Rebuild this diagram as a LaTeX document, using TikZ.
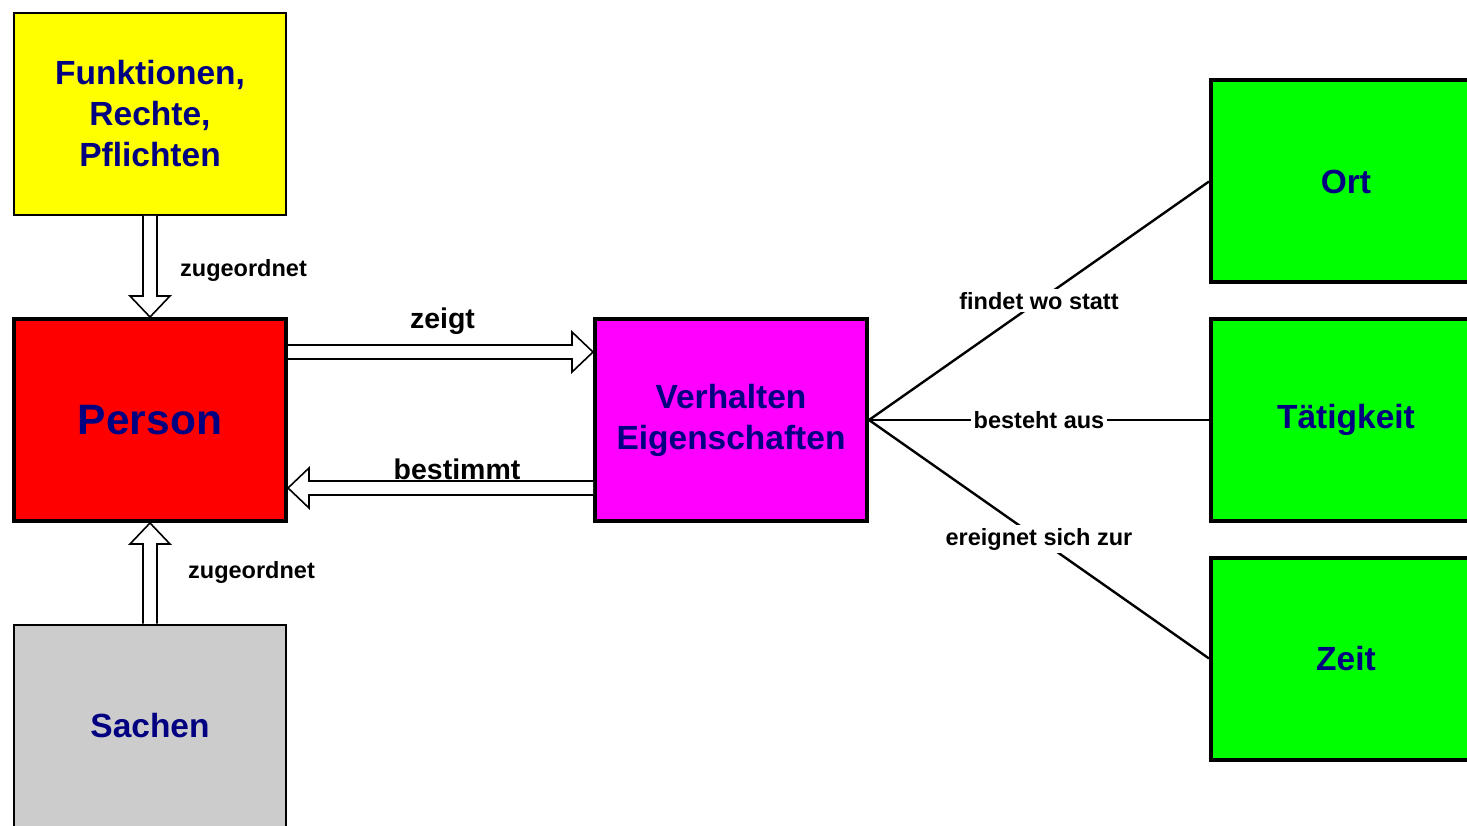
\documentclass[tikz,border=0pt]{standalone}
\usepackage{fontspec}
\setmainfont{Liberation Sans}
\usepackage{xcolor}
\usetikzlibrary{calc, positioning}
\definecolor{navytext}{RGB}{0,0,128}
\definecolor{sachengray}{RGB}{204,204,204}
\definecolor{fktyellow}{RGB}{255,255,0}
\definecolor{personred}{RGB}{255,0,0}
\definecolor{verhmagenta}{RGB}{255,0,255}
\definecolor{boxgreen}{RGB}{0,255,0}
\tikzset{
    conceptmap/.style={x=1pt, y=-1pt, line join=miter},
    box/.style={draw, rectangle, align=center, text=navytext, inner sep=0pt,
        font=\bfseries\fontsize{33.5}{41}\selectfont,
        minimum width=272pt, minimum height=202pt},
    thinbox/.style={box, line width=2pt},
    thickbox/.style={box, line width=4pt},
    greenbox/.style={thickbox, fill=boxgreen, minimum width=270pt},
    link/.style={line width=2.4pt},
    hollow/.style={draw, fill=white, line width=1.6pt, line join=miter},
    rel/.style={inner sep=0pt, font=\bfseries\fontsize{23.5}{28}\selectfont},
    relbig/.style={inner sep=0pt, font=\bfseries\fontsize{28.5}{34}\selectfont},
    % label sitting on a link: white patch cuts the line
    onlink/.style={rel, fill=white, inner sep=3pt, pos=0.5},
}
% hollow block arrow from #1 (tail) to #2 (tip)
\newcommand{\hollowarrow}[2]{%
    \coordinate (hb) at ($(#2)!21pt!(#1)$);
    \draw[hollow] ($(#1)!7pt!90:(#2)$) -- ($(hb)!7pt!90:(#2)$)
        -- ($(hb)!20pt!90:(#2)$) -- (#2) -- ($(hb)!20pt!-90:(#2)$)
        -- ($(hb)!7pt!-90:(#2)$) -- ($(#1)!7pt!-90:(#2)$);
}

\begin{document}
\begin{tikzpicture}[conceptmap]
    \useasboundingbox (0,0) rectangle (1467,826);

    \node[thinbox, fill=fktyellow]   (fkt)    at (150,114)   {Funktionen,\\Rechte,\\Pflichten};
    \node[thickbox, fill=personred, font=\bfseries\fontsize{42.5}{50}\selectfont]
                                     (person) at (150,420)   {Person};
    \node[thickbox, fill=verhmagenta] (verh)  at (731,420)   {Verhalten\\Eigenschaften};
    \node[thinbox, fill=sachengray]  (sachen) at (150,725.5) {Sachen};
    \node[greenbox] (ort)  at (1346,181.5) {Ort};
    \node[greenbox] (taet) at (1346,420)   {Tätigkeit};
    \node[greenbox] (zeit) at (1346,658.5) {Zeit};

    % arrows between person and the rest
    \hollowarrow{fkt.south}{person.north}
    \hollowarrow{sachen.north}{person.south}
    \coordinate (zeigtA) at ($(person.north east)!0.17!(person.south east)$);
    \coordinate (zeigtB) at ($(verh.north west)!0.17!(verh.south west)$);
    \coordinate (bestA)  at ($(verh.north west)!0.83!(verh.south west)$);
    \coordinate (bestB)  at ($(person.north east)!0.83!(person.south east)$);
    \hollowarrow{zeigtA}{zeigtB}
    \hollowarrow{bestA}{bestB}

    \path (fkt.south) -- node[rel, anchor=west, xshift=30pt, yshift=-4pt] (zu1) {zugeordnet} (person.north);
    \path (sachen.north) -- node[rel, anchor=west, xshift=38pt, yshift=1pt] (zu2) {zugeordnet} (person.south);
    \path (zeigtA) -- node[relbig, xshift=2pt, yshift=31pt] (zeigtlbl) {zeigt} (zeigtB);
    \path (bestA) -- node[relbig, xshift=16.5pt, yshift=19pt] (bestlbl) {bestimmt} (bestB);

    \draw[link] (verh.east) -- node[onlink] {findet wo statt} (ort.west);
    \draw[link] (verh.east) -- node[onlink] {besteht aus} (taet.west);
    \draw[link] (verh.east) -- node[onlink] {ereignet sich zur} (zeit.west);
\end{tikzpicture}
\end{document}
